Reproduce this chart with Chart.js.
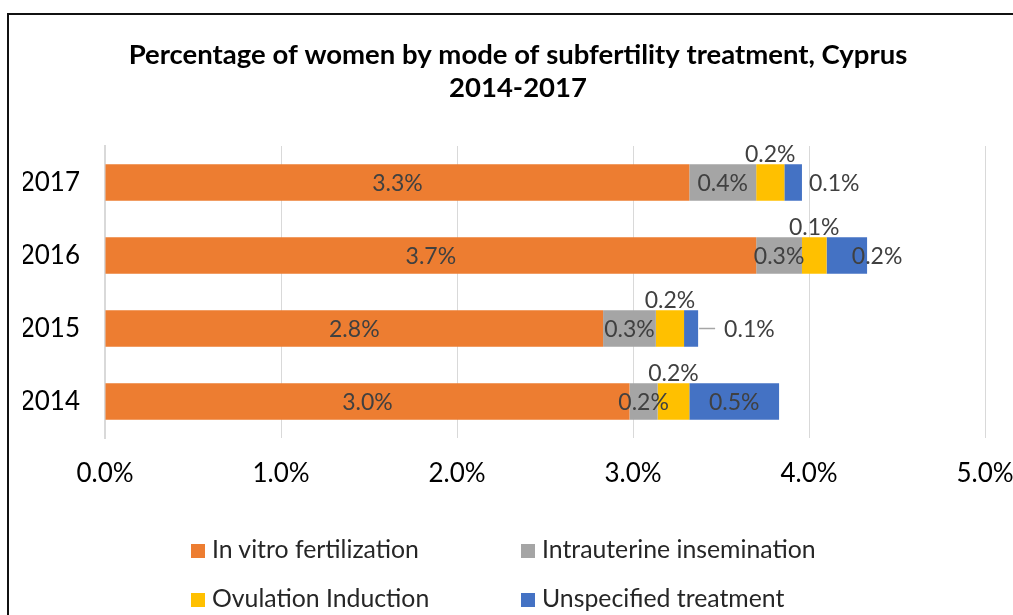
<!DOCTYPE html>
<html>
<head>
<meta charset="utf-8">
<script src="https://cdn.jsdelivr.net/npm/chart.js@4"></script>
<style>
  html, body { margin: 0; padding: 0; background: #fff; }
  #wrap { position: relative; width: 1013px; height: 615px; overflow: hidden; }
  #frame { position: absolute; left: 7px; top: 13px; width: 1100px; height: 700px;
           border-left: 2px solid #111; border-top: 2px solid #111; }
  canvas { position: absolute; left: 0; top: 0; }
  .leg { position: absolute; font-family: Lato, sans-serif; font-size: 24.8px; color: #262626;
         white-space: nowrap; line-height: 30px; }
  .leg span { display: inline-block; width: 14px; height: 14px; margin-right: 7px; vertical-align: 0px; }
</style>
</head>
<body>
<div id="wrap">
  <div id="frame"></div>
  <canvas id="chart" width="1013" height="615"></canvas>
  <div id="legend"></div>
</div>
<script>
var years = ["2014", "2015", "2016", "2017"];
var ivf = [2.98, 2.83, 3.70, 3.32];
var iui = [0.16, 0.30, 0.26, 0.38];
var ovulation = [0.18, 0.16, 0.14, 0.16];
var unspecified = [0.51, 0.08, 0.23, 0.10];
var seriesNames = ["In vitro fertilization", "Intrauterine insemination", "Ovulation Induction", "Unspecified treatment"];
var seriesColors = ["#ED7D31", "#A5A5A5", "#FFC000", "#4472C4"];
var xTicks = [0, 1, 2, 3, 4, 5];

var font = "Lato";

// where each series puts its value label
var labelPlace = ["center", "center", "above", ["center", "leader", "end", "right"]];

var labelPlugin = {
  id: "valueLabels",
  afterDatasetsDraw: function(chart) {
    let ctx = chart.ctx;
    ctx.save();
    ctx.font = "23px " + font;
    ctx.fillStyle = "#404040";
    ctx.textBaseline = "middle";
    chart.data.datasets.forEach(function(ds, di) {
      let meta = chart.getDatasetMeta(di);
      meta.data.forEach(function(bar, i) {
        let text = ds.data[i].toFixed(1) + "%";
        let place = labelPlace[di];
        if (Array.isArray(place)) place = place[i];
        let left = Math.min(bar.x, bar.base), right = Math.max(bar.x, bar.base);
        let mid = (left + right) / 2;
        ctx.textAlign = "center";
        if (place == "center") {
          ctx.fillText(text, mid, bar.y + 1);
        } else if (place == "above") {
          ctx.fillText(text, mid, bar.y - bar.height / 2 - 10);
        } else if (place == "end") {
          ctx.fillText(text, right + 10, bar.y + 1);
        } else if (place == "right") {
          ctx.textAlign = "left";
          ctx.fillText(text, right + 7, bar.y + 1);
        } else if (place == "leader") {
          ctx.strokeStyle = "#A6A6A6";
          ctx.lineWidth = 1.5;
          ctx.beginPath();
          ctx.moveTo(right + 1, bar.y);
          ctx.lineTo(right + 17, bar.y);
          ctx.stroke();
          ctx.textAlign = "left";
          ctx.fillText(text, right + 26, bar.y + 1);
        }
      });
    });
    ctx.restore();
  }
};

var values = [ivf, iui, ovulation, unspecified];
var datasets = [];
for (let i = 0; i < values.length; i++) {
  datasets.push({
    label: seriesNames[i],
    data: values[i],
    backgroundColor: seriesColors[i],
    borderWidth: 0
  });
}

new Chart(document.getElementById("chart"), {
  type: "bar",
  data: { labels: years, datasets: datasets },
  plugins: [labelPlugin],
  options: {
    indexAxis: "y",
    responsive: false,
    animation: false,
    layout: { padding: { top: 0, right: 0, bottom: 0, left: 23 } },
    datasets: { bar: { categoryPercentage: 1.0, barPercentage: 0.5 } },
    scales: {
      x: {
        stacked: true,
        min: 0,
        max: 5,
        afterBuildTicks: function(scale) {
          scale.ticks = xTicks.map(function(v) { return { value: v }; });
        },
        afterFit: function(scale) {
          scale.height = 177;
          scale.paddingRight = 28;
        },
        grid: { color: "#D9D9D9", lineWidth: 1, drawTicks: false },
        border: { display: false },
        ticks: {
          padding: 20,
          color: "#000",
          font: { family: font, size: 26 },
          callback: function(v) { return v.toFixed(1) + "%"; }
        }
      },
      y: {
        stacked: true,
        reverse: true,
        afterFit: function(scale) { scale.width = 82; },
        grid: { display: false, drawTicks: false },
        border: { display: true, color: "#D9D9D9", width: 2 },
        ticks: { padding: 25, color: "#000", font: { family: font, size: 26 } }
      }
    },
    plugins: {
      legend: { display: false },
      tooltip: { enabled: false },
      title: {
        display: true,
        text: ["Percentage of women by mode of subfertility treatment, Cyprus", "2014-2017"],
        color: "#000",
        font: { family: font, size: 27.5, weight: "bold", lineHeight: 1.2 },
        padding: { top: 39, bottom: 41 }
      }
    }
  }
});

// legend laid out in two columns like the original
var legend = document.getElementById("legend");
var legX = [191, 521], legY = [534, 583];
for (let i = 0; i < seriesNames.length; i++) {
  let item = document.createElement("div");
  item.className = "leg";
  item.style.left = legX[i % 2] + "px";
  item.style.top = legY[Math.floor(i / 2)] + "px";
  item.innerHTML = '<span style="background:' + seriesColors[i] + '"></span>' + seriesNames[i];
  legend.appendChild(item);
}
</script>
</body>
</html>
